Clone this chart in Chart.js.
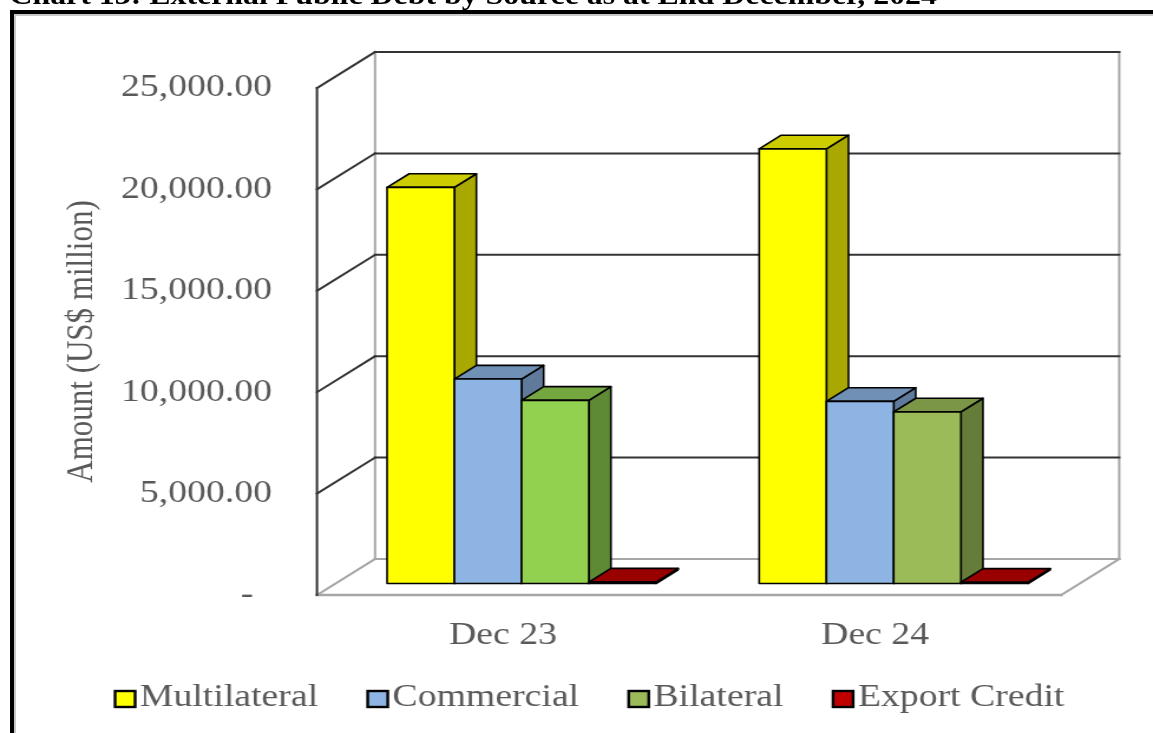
<!DOCTYPE html>
<html>
<head>
<meta charset="utf-8">
<script src="https://cdn.jsdelivr.net/npm/chart.js@4"></script>
<style>
html,body{margin:0;padding:0;background:#fff;overflow:hidden;width:1153px;height:733px;}
#frame{position:absolute;left:10px;top:10px;width:1300px;height:900px;border-left:4px solid #000;border-top:4px solid #000;}
#frame2{position:absolute;left:14px;top:14px;width:1300px;height:900px;border-left:2px solid #c8c8c8;border-top:2px solid #c8c8c8;}
#stretch{position:absolute;left:0;top:0;width:977px;height:733px;transform:scaleX(1.1801);transform-origin:0 0;}
#title{position:absolute;left:8px;top:-18px;font:bold 27px "Liberation Serif";line-height:27px;white-space:nowrap;color:#000;}
canvas{position:absolute;left:0;top:0;}
</style>
</head>
<body>
<div id="frame"></div>
<div id="frame2"></div>
<div id="stretch">
  <div id="title">Chart 13: External Public Debt by Source as at End December, 2024</div>
  <canvas id="c" width="977" height="733" style="width:977px;height:733px"></canvas>
</div>
<script>
// ---------- data ----------
const CATEGORIES = ['Dec 23', 'Dec 24'];
const SERIES_NAMES = ['Multilateral', 'Commercial', 'Bilateral', 'Export Credit'];
const MULTILATERAL = [19530, 21430];
const COMMERCIAL = [10080, 8980];
const BILATERAL = [9030, 8460];
const EXPORT_CREDIT = [70, 60];
const Y_TICKS = [0, 5000, 10000, 15000, 20000, 25000];
const Y_TITLE = 'Amount (US$ million)';

// ---------- styles ----------
const FRONT = [['#FFFF00', '#FFFF00'], ['#8DB4E2', '#8DB4E2'], ['#92D050', '#9BBB59'], ['#C00000', '#C00000']];
const TOPC  = [['#CCCC00', '#CCCC00'], ['#7190B5', '#7190B5'], ['#75A740', '#7C9647'], ['#990000', '#990000']];
const SIDE  = [['#A8A800', '#A8A800'], ['#5F7A9A', '#5F7A9A'], ['#5F8A35', '#667D3A'], ['#700000', '#700000']];
const LEGEND_COLORS = ['#FFFF00', '#8DB4E2', '#9BBB59', '#C00000'];
const TEXT_COLOR = '#595959';
const FONT_FAMILY = '"Liberation Serif", "Times New Roman", serif';
const DX = 49.2, DY = 36;        // depth of the 3D box
const F0 = 0.32, FD = 0.38;      // bar front position / bar depth (fractions of depth)

const seriesValues = [MULTILATERAL, COMMERCIAL, BILATERAL, EXPORT_CREDIT];

function line(ctx, x1, y1, x2, y2, color, w) {
  ctx.beginPath();
  ctx.moveTo(x1, y1); ctx.lineTo(x2, y2);
  ctx.strokeStyle = color; ctx.lineWidth = w; ctx.stroke();
}
function poly(ctx, pts, fill) {
  ctx.beginPath();
  ctx.moveTo(pts[0][0], pts[0][1]);
  for (let i = 1; i < pts.length; i++) ctx.lineTo(pts[i][0], pts[i][1]);
  ctx.closePath();
  ctx.fillStyle = fill; ctx.fill();
  ctx.strokeStyle = '#000'; ctx.lineWidth = 1.6; ctx.lineJoin = 'round'; ctx.stroke();
}

const threeD = {
  id: 'threeD',
  beforeDatasetsDraw(chart) {
    const ctx = chart.ctx;
    const xs = chart.scales.x, ys = chart.scales.y;
    const L = xs.left, R = xs.right;
    const yTop = ys.getPixelForValue(Y_TICKS[Y_TICKS.length - 1]);
    const yBot = ys.getPixelForValue(0);
    const gray = '#A6A6A6', dark = '#333333';
    ctx.save();
    ctx.lineCap = 'square';
    // walls & floor (gray)
    line(ctx, L + DX, yTop - DY, L + DX, yBot - DY, gray, 2);
    line(ctx, R + DX, yTop - DY, R + DX, yBot - DY, gray, 2);
    line(ctx, L + DX, yBot - DY, R + DX, yBot - DY, gray, 2);
    line(ctx, L, yBot, L + DX, yBot - DY, gray, 2);
    line(ctx, L, yBot, R, yBot, gray, 2.5);
    line(ctx, R, yBot, R + DX, yBot - DY, gray, 2);
    // gridlines
    Y_TICKS.forEach(v => {
      if (v === 0) return;
      const yy = ys.getPixelForValue(v);
      line(ctx, L, yy, L + DX, yy - DY, dark, 2);
      line(ctx, L + DX, yy - DY, R + DX, yy - DY, dark, 2);
    });
    // front vertical axis
    line(ctx, L, yTop, L, yBot, dark, 2);
    // bars
    const nDs = chart.data.datasets.length;
    for (let i = 0; i < CATEGORIES.length; i++) {
      for (let d = 0; d < nDs; d++) {
        const el = chart.getDatasetMeta(d).data[i];
        const p = el.getProps(['x', 'y', 'base', 'width'], true);
        const x0 = p.x - p.width / 2 + F0 * DX, x1 = p.x + p.width / 2 + F0 * DX;
        const yt = p.y - F0 * DY, yb = p.base - F0 * DY;
        const ddx = FD * DX, ddy = FD * DY;
        poly(ctx, [[x1, yt], [x1 + ddx, yt - ddy], [x1 + ddx, yb - ddy], [x1, yb]], SIDE[d][i]);
        poly(ctx, [[x0, yt], [x0 + ddx, yt - ddy], [x1 + ddx, yt - ddy], [x1, yt]], TOPC[d][i]);
        poly(ctx, [[x0, yt], [x1, yt], [x1, yb], [x0, yb]], FRONT[d][i]);
      }
    }
    ctx.restore();
    return false;
  },
  afterDraw(chart) {
    const ctx = chart.ctx;
    ctx.save();
    ctx.font = '32px ' + FONT_FAMILY;
    ctx.textBaseline = 'alphabetic';
    ctx.textAlign = 'left';
    let xx = 97.5;
    const by = 691, bw = 17, bh = 16, ty = 706;
    chart.data.datasets.forEach((ds, k) => {
      ctx.fillStyle = LEGEND_COLORS[k];
      ctx.fillRect(xx, by, bw, bh);
      ctx.strokeStyle = '#000'; ctx.lineWidth = 2.4;
      ctx.strokeRect(xx, by, bw, bh);
      ctx.fillStyle = TEXT_COLOR;
      ctx.fillText(ds.label, xx + bw + 4, ty);
      xx += bw + 4 + ctx.measureText(ds.label).width + 42;
    });
    ctx.restore();
  }
};

new Chart(document.getElementById('c'), {
  type: 'bar',
  data: {
    labels: CATEGORIES,
    datasets: SERIES_NAMES.map((name, k) => ({
      label: name,
      data: seriesValues[k],
      backgroundColor: LEGEND_COLORS[k],
      borderColor: '#000',
      borderWidth: 0
    }))
  },
  options: {
    responsive: false,
    devicePixelRatio: 1,
    animation: false,
    events: [],
    layout: { padding: { left: 0, top: 88, right: 77.8, bottom: 78 } },
    datasets: { bar: { categoryPercentage: 0.723, barPercentage: 1.0 } },
    plugins: { legend: { display: false }, tooltip: { enabled: false }, title: { display: false } },
    scales: {
      x: {
        grid: { display: false },
        border: { display: false },
        ticks: { font: { family: FONT_FAMILY, size: 32 }, color: TEXT_COLOR, padding: 13 },
        afterFit(s) { s.height = 60; }
      },
      y: {
        min: 0, max: 25000,
        grid: { display: false },
        border: { display: false },
        afterBuildTicks(s) { s.ticks = Y_TICKS.map(v => ({ value: v })); },
        ticks: {
          font: { family: FONT_FAMILY, size: 32 }, color: TEXT_COLOR, padding: 30,
          callback: v => v === 0 ? '-  ' : Number(v).toLocaleString('en-US', { minimumFractionDigits: 2, maximumFractionDigits: 2 })
        },
        title: { display: true, text: Y_TITLE, color: TEXT_COLOR, font: { family: FONT_FAMILY, size: 31 }, padding: { top: 51, bottom: 0 } },
        afterFit(s) { s.width = 268.6; }
      }
    }
  },
  plugins: [threeD]
});
</script>
</body>
</html>
